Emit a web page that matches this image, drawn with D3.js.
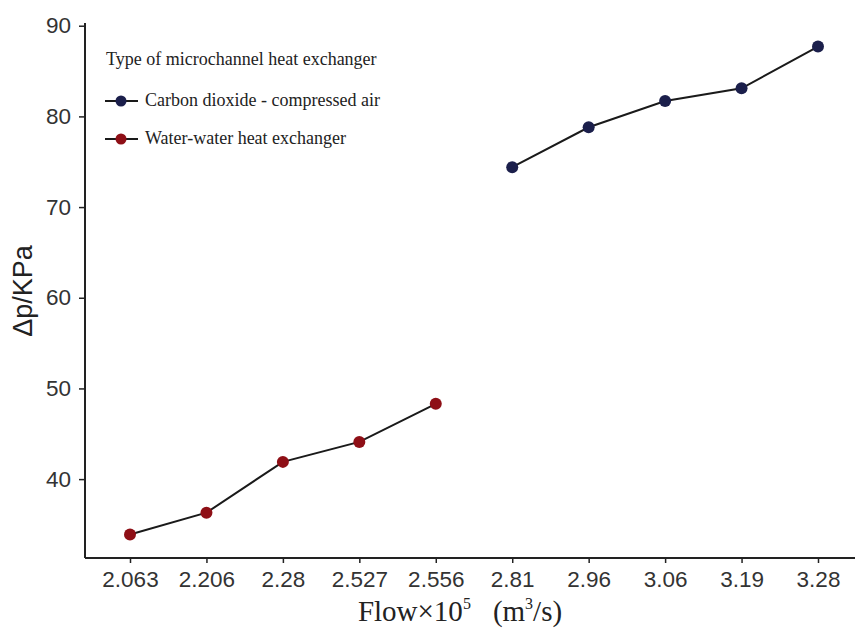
<!DOCTYPE html>
<html>
<head>
<meta charset="utf-8">
<script src="https://cdn.jsdelivr.net/npm/d3@7"></script>
<style>
    body { margin: 0; background: #fff; }
    .axis path, .axis line { stroke: #222; }
    .axis text { font-family: "Liberation Sans", Arial, sans-serif; font-size: 22.5px; fill: #333; }
</style>
</head>
<body>
<div id="chart"></div>
<script>
"use strict";

var flows = ["2.063", "2.206", "2.28", "2.527", "2.556", "2.81", "2.96", "3.06", "3.19", "3.28"];
var waterFlows = ["2.063", "2.206", "2.28", "2.527", "2.556"];
var waterValues = [33.9, 36.3, 41.9, 44.1, 48.3];
var co2Flows = ["2.81", "2.96", "3.06", "3.19", "3.28"];
var co2Values = [74.4, 78.8, 81.7, 83.1, 87.7];
var yTicks = [40, 50, 60, 70, 80, 90];
var seriesNames = ["Carbon dioxide - compressed air", "Water-water heat exchanger"];
var seriesColors = ["#1b1f4b", "#8e0f16"];

(function () {
    var width = 857,
        height = 630,
        left = 85,
        right = 855,
        top = 23,
        bottom = 558,
        svg, x, y, line, series;

    svg = d3.select("#chart").append("svg")
        .attr("width", width)
        .attr("height", height);

    x = d3.scalePoint().domain(flows).range([130, 818]);
    y = d3.scaleLinear().domain([31.3, 90.3]).range([bottom, top]);

    svg.append("g")
        .attr("class", "x axis")
        .attr("transform", "translate(0," + bottom + ")")
        .call(d3.axisBottom(x).tickSize(5).tickPadding(8))
        .call(function (g) {
            g.select(".domain").attr("d", "M" + left + ",0H" + right).attr("stroke-width", 2);
            g.selectAll(".tick line").attr("stroke-width", 1.5);
        });

    svg.append("g")
        .attr("class", "y axis")
        .attr("transform", "translate(" + left + ",0)")
        .call(d3.axisLeft(y).tickValues(yTicks).tickSize(6).tickPadding(8))
        .call(function (g) {
            g.select(".domain").attr("d", "M0," + top + "V" + bottom).attr("stroke-width", 2);
            g.selectAll(".tick line").attr("stroke-width", 1.5);
        });

    line = d3.line()
        .x(function (d) { return x(d.f); })
        .y(function (d) { return y(d.v); });

    series = [
        { color: seriesColors[0], pts: co2Flows.map(function (f, i) { return { f: f, v: co2Values[i] }; }) },
        { color: seriesColors[1], pts: waterFlows.map(function (f, i) { return { f: f, v: waterValues[i] }; }) }
    ];

    series.forEach(function (s) {
        svg.append("path")
            .attr("d", line(s.pts))
            .attr("fill", "none")
            .attr("stroke", "#1a1a1a")
            .attr("stroke-width", 2);

        svg.selectAll(null)
            .data(s.pts).enter().append("circle")
            .attr("cx", function (d) { return x(d.f); })
            .attr("cy", function (d) { return y(d.v); })
            .attr("r", 6)
            .attr("fill", s.color);
    });

    // legend
    var legend = svg.append("g")
        .attr("font-family", "'Liberation Serif', 'Times New Roman', serif")
        .attr("font-size", 18)
        .attr("fill", "#222");

    legend.append("text")
        .attr("x", 106)
        .attr("y", 65)
        .text("Type of microchannel heat exchanger");

    seriesNames.forEach(function (name, i) {
        var ly = 101 + i * 38;
        legend.append("line")
            .attr("x1", 105).attr("x2", 138)
            .attr("y1", ly).attr("y2", ly)
            .attr("stroke", "#1a1a1a")
            .attr("stroke-width", 2);
        legend.append("circle")
            .attr("cx", 121).attr("cy", ly)
            .attr("r", 5.5)
            .attr("fill", seriesColors[i]);
        legend.append("text")
            .attr("x", 145)
            .attr("y", ly + 5)
            .text(name);
    });

    // axis titles
    svg.append("text")
        .attr("transform", "translate(32,291) rotate(-90)")
        .attr("text-anchor", "middle")
        .attr("font-family", "'Liberation Sans', Arial, sans-serif")
        .attr("font-size", 27)
        .attr("fill", "#222")
        .text("\u0394p/KPa");

    var xt = svg.append("text")
        .attr("x", 460)
        .attr("y", 621)
        .attr("text-anchor", "middle")
        .attr("font-family", "'Liberation Serif', 'Times New Roman', serif")
        .attr("font-size", 29)
        .attr("fill", "#222");
    xt.append("tspan").text("Flow\u00d710");
    xt.append("tspan").attr("dy", -12).attr("font-size", 16).text("5");
    xt.append("tspan").attr("dy", 12).attr("dx", 22).text("(m");
    xt.append("tspan").attr("dy", -12).attr("font-size", 16).text("3");
    xt.append("tspan").attr("dy", 12).text("/s)");
}());
</script>
</body>
</html>
